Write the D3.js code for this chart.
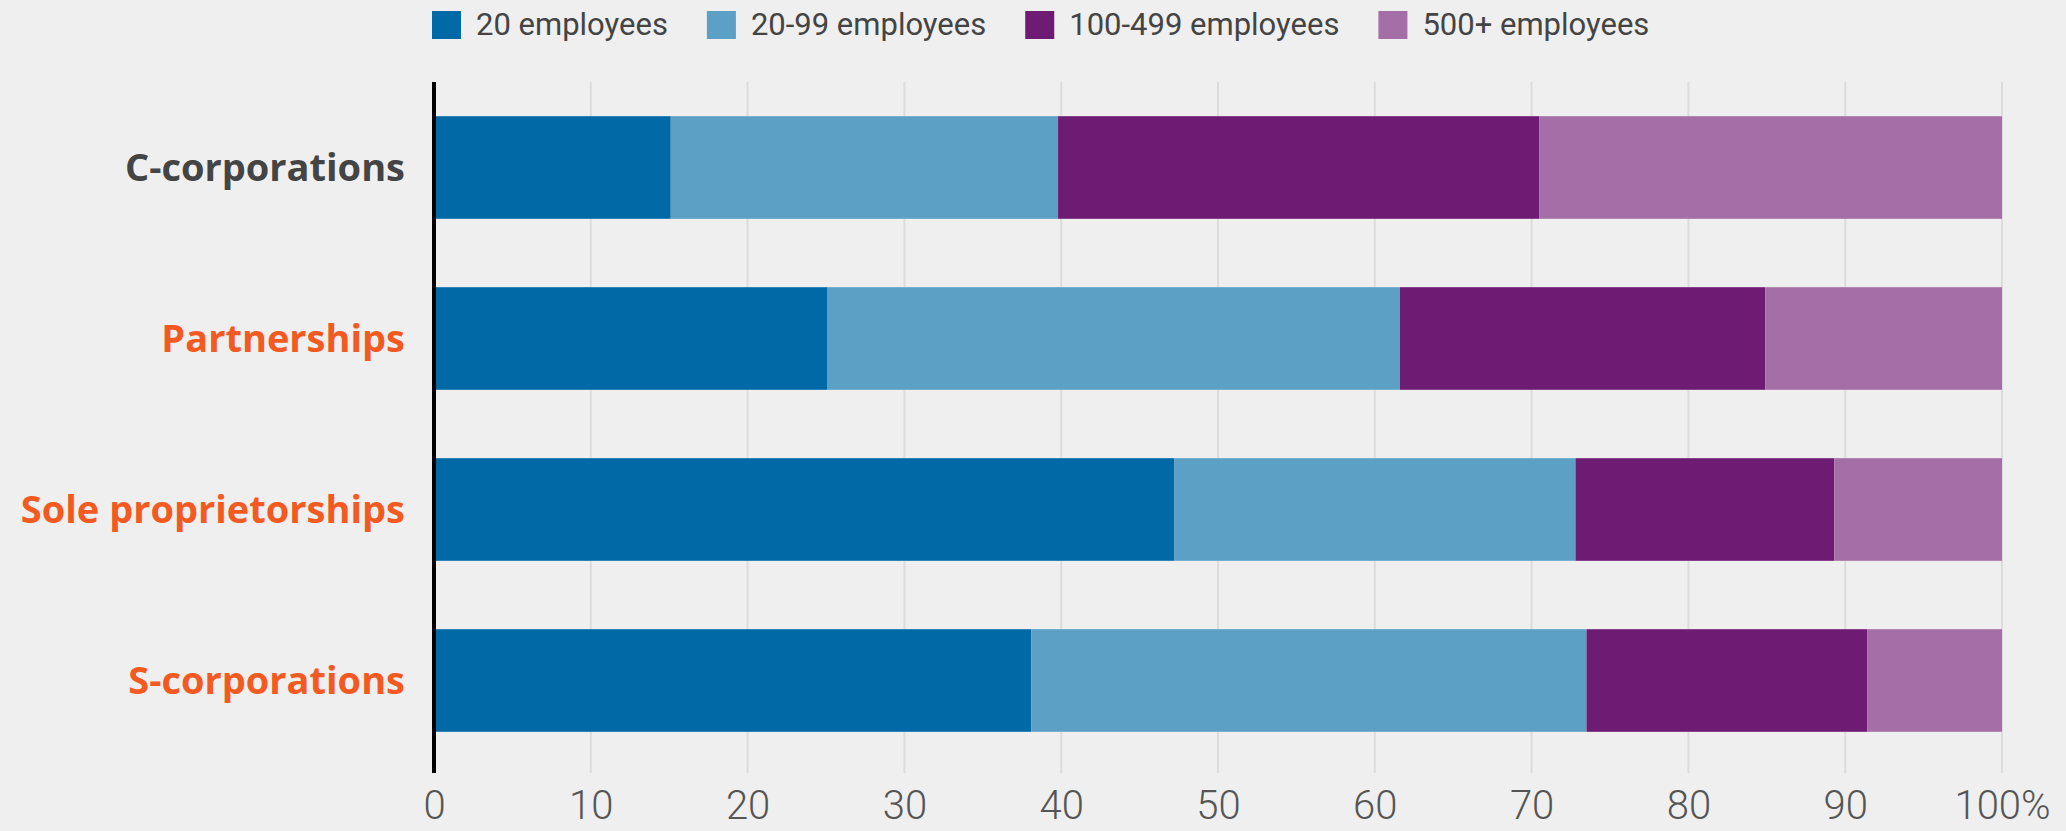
<!DOCTYPE html>
<html>
<head>
<meta charset="utf-8">
<script src="https://cdn.jsdelivr.net/npm/d3@7"></script>
<style>
  html, body { margin: 0; padding: 0; background: #efefef; }
  svg { display: block; }
</style>
</head>
<body>
<svg id="chart" width="2066" height="831"></svg>
<script>
// Business types and share of employment (%) by firm size
const categories = ["C-corporations", "Partnerships", "Sole proprietorships", "S-corporations"];
const seriesNames = ["20 employees", "20-99 employees", "100-499 employees", "500+ employees"];
const under20   = [15.1, 25.1, 47.2, 38.1];
const from20to99 = [24.7, 36.5, 25.6, 35.4];
const from100to499 = [30.7, 23.3, 16.5, 17.9];
const over500   = [29.5, 15.1, 10.7, 8.6];
const xTicks = [0, 10, 20, 30, 40, 50, 60, 70, 80, 90, 100];

const seriesColors = ["#0069a6", "#5ca0c6", "#6e1b74", "#a46ea6"];
const labelColors = ["#444444", "#f25a21", "#f25a21", "#f25a21"];

const rows = categories.map((c, i) => ({
  category: c,
  [seriesNames[0]]: under20[i],
  [seriesNames[1]]: from20to99[i],
  [seriesNames[2]]: from100to499[i],
  [seriesNames[3]]: over500[i]
}));

const svg = d3.select("#chart");
const W = 2066, H = 831;
svg.append("rect").attr("width", W).attr("height", H).attr("fill", "#efefef");

const plotTop = 82, plotBottom = 773;
const x = d3.scaleLinear().domain([0, 100]).range([434, 2002]);
const y = d3.scaleBand().domain(categories).range([82, 766]).paddingInner(0.4).paddingOuter(0.2);

// vertical gridlines
svg.append("g").selectAll("line")
  .data(xTicks.filter(t => t > 0))
  .join("line")
  .attr("x1", d => x(d)).attr("x2", d => x(d))
  .attr("y1", plotTop).attr("y2", plotBottom)
  .attr("stroke", "#dcdcdc").attr("stroke-width", 2);

// stacked bars
const stack = d3.stack().keys(seriesNames);
const layers = stack(rows);
svg.append("g").selectAll("g")
  .data(layers)
  .join("g")
  .attr("fill", (d, i) => seriesColors[i])
  .selectAll("rect")
  .data(d => d)
  .join("rect")
  .attr("x", d => x(d[0]))
  .attr("width", d => x(d[1]) - x(d[0]))
  .attr("y", d => y(d.data.category))
  .attr("height", y.bandwidth());

// baseline axis
svg.append("line")
  .attr("x1", x(0)).attr("x2", x(0))
  .attr("y1", plotTop).attr("y2", plotBottom)
  .attr("stroke", "#000").attr("stroke-width", 4);

// bottom tick labels
const xAxis = d3.axisBottom(x)
  .tickValues(xTicks)
  .tickSize(0)
  .tickPadding(18)
  .tickFormat(d => d === 100 ? "100%" : String(d));
const gx = svg.append("g").attr("transform", `translate(0,${plotBottom})`).call(xAxis);
gx.select(".domain").remove();
gx.selectAll("text")
  .attr("fill", "#555")
  .style("font-family", "Roboto, sans-serif")
  .style("font-weight", 300)
  .style("font-size", "40px");

// category labels
svg.append("g").selectAll("text")
  .data(categories)
  .join("text")
  .attr("x", 405)
  .attr("y", d => y(d) + y.bandwidth() / 2)
  .attr("dy", "0.36em")
  .attr("text-anchor", "end")
  .attr("fill", (d, i) => labelColors[i])
  .style("font-family", "'Open Sans', sans-serif")
  .style("font-weight", 700)
  .style("font-size", "38px")
  .text(d => d);

// legend
const legend = svg.append("g");
let lx = 432;
seriesNames.forEach((name, i) => {
  const g = legend.append("g").attr("transform", `translate(${lx},0)`);
  g.append("rect").attr("x", 0).attr("y", 11).attr("width", 29).attr("height", 28)
    .attr("fill", seriesColors[i]);
  const t = g.append("text")
    .attr("x", 44).attr("y", 35)
    .attr("fill", "#444")
    .style("font-family", "Roboto, sans-serif")
    .style("font-size", "31px")
    .text(name);
  const w = t.node().getComputedTextLength();
  lx += 44 + w + 39;
});
</script>
</body>
</html>
